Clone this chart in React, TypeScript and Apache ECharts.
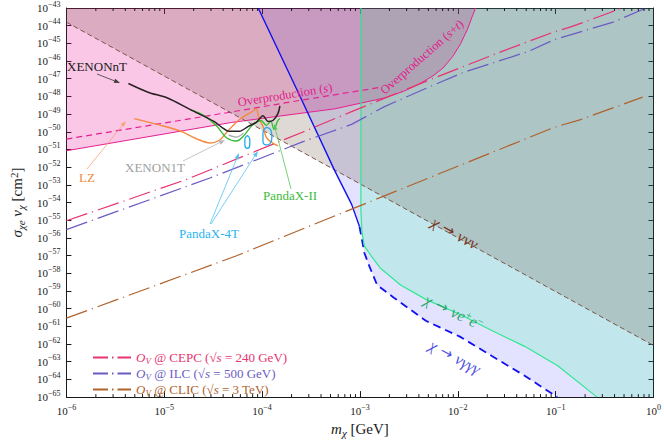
import React, { useEffect, useRef } from 'react';
import * as echarts from 'echarts';

type Pt = [number, number];

// ---------------- data: mass m_chi [GeV], cross-section sigma*v [cm^2] ----------------
const xTickExponents = [-6, -5, -4, -3, -2, -1, 0];
const yTickExponents = [-65, -64, -63, -62, -61, -60, -59, -58, -57, -56, -55, -54, -53, -52, -51, -50, -49, -48, -47, -46, -45, -44, -43];
const minorMultipliers = [2, 3, 4, 5, 6, 7, 8, 9];

const overprodST: Pt[] = [
  [1e-6, 8.5e-52], [4.88e-5, 3.39e-50], [5.55e-4, 2.0e-49], [1.76e-3, 8.1e-49], [2.8e-3, 1.95e-48],
  [3.96e-3, 4.8e-48], [5.61e-3, 1.48e-47], [7.07e-3, 4.07e-47], [8.91e-3, 1.86e-46], [1.07e-2, 9.8e-46],
  [1.26e-2, 6.6e-45], [1.42e-2, 3.9e-44], [1.52e-2, 1e-43],
];
const overprodS: Pt[] = [[1e-6, 3.9e-51], [4.35e-5, 1.2e-49], [2.58e-4, 6.3e-49], [1.64e-3, 3.3e-48]];
const decayNuNuNu: Pt[] = [[1e-6, 1.58e-44], [1, 8.3e-63]];
const decayNuGGGSolid: Pt[] = [[9.12e-5, 1e-43], [2.36e-4, 1.51e-48], [5.55e-4, 6.0e-53], [8.22e-4, 7.9e-55], [9.89e-4, 4.4e-56]];
const decayNuGGGDashed: Pt[] = [
  [9.89e-4, 4.4e-56], [1.11e-3, 1.41e-57], [1.24e-3, 2.72e-58], [1.5e-3, 2.14e-59], [2.22e-3, 4.17e-60],
  [4.76e-3, 2.0e-61], [1.05e-2, 2.63e-62], [2.25e-2, 2.04e-63], [4.82e-2, 1.62e-64], [1.04e-1, 1e-65],
];
const decayNuEE: Pt[] = [
  [1.023e-3, 1e-43], [1.023e-3, 2.9e-55], [1.047e-3, 2.3e-56], [1.11e-3, 3.47e-57], [1.3e-3, 9.8e-58],
  [1.63e-3, 1.86e-58], [2.6e-3, 2.19e-59], [4.76e-3, 3.24e-60], [1.04e-2, 4.8e-61], [2.25e-2, 5.6e-62],
  [4.82e-2, 7.4e-63], [1.05e-1, 5.9e-64], [2.65e-1, 1e-65],
];
const cepc: Pt[] = [
  [1e-6, 9.3e-56], [1.64e-5, 1.9e-53], [2.58e-4, 9.5e-51], [8.22e-4, 1.38e-49], [5.87e-3, 1.15e-47],
  [2.83e-2, 3.55e-46], [9.66e-2, 4.47e-45], [1.43e-1, 8.5e-45], [3.61e-1, 5.6e-44], [4.76e-1, 1e-43],
];
const ilc: Pt[] = [
  [1e-6, 2.95e-56], [2.93e-5, 2.45e-53], [2.58e-4, 2.69e-51], [8.22e-4, 2.63e-50], [1.76e-3, 2.57e-49],
  [4.76e-3, 2.88e-48], [1.12e-2, 2.19e-47], [5.3e-2, 3.55e-46], [9.66e-2, 1.62e-45], [1.53e-1, 3.47e-45],
  [3.87e-1, 1.58e-44], [7.74e-1, 8.3e-44], [1, 1.5e-43],
];
const clic: Pt[] = [
  [1e-6, 2.9e-61], [5.48e-5, 9.8e-58], [8.22e-4, 4.27e-55], [9.66e-2, 1.78e-50], [1.8e-1, 4.9e-50], [7.74e-1, 9.1e-49],
];
const xenonNT: Pt[] = [
  [4.3e-6, 5.4e-48], [6.82e-6, 1.74e-48], [1.08e-5, 8.1e-49], [1.85e-5, 1.78e-49], [3.22e-5, 3.85e-50],
  [3.87e-5, 1.8e-50], [4.55e-5, 1.08e-50], [5.87e-5, 1.08e-50], [7.23e-5, 2.04e-50], [8.7e-5, 3.39e-50],
  [1.02e-4, 8.2e-50], [1.15e-4, 3.85e-50], [1.29e-4, 4.37e-50], [1.45e-4, 1.06e-49], [1.52e-4, 2.95e-49],
];
const lz: Pt[] = [
  [4.93e-6, 5.6e-50], [9.23e-6, 2.32e-50], [1.47e-5, 1.08e-50], [2.17e-5, 3.9e-51], [2.93e-5, 2.34e-51],
  [3.7e-5, 3.45e-51], [4.35e-5, 9.5e-51], [5.87e-5, 4.95e-50], [8.13e-5, 1.55e-49], [8.7e-5, 2.0e-49],
  [9.33e-5, 5.6e-50], [1.02e-4, 2.04e-50], [1.1e-4, 5.0e-51], [1.23e-4, 2.7e-51], [1.45e-4, 1.62e-51],
];
const pandaXII: Pt[] = [
  [1.85e-5, 1.78e-49], [2.55e-5, 8.2e-50], [3.45e-5, 2.04e-50], [4.35e-5, 4.47e-51], [5.48e-5, 3.02e-51],
  [6.44e-5, 5.7e-51], [7.75e-5, 2.04e-50], [8.7e-5, 3.39e-50], [9.77e-5, 4.37e-50], [1.1e-4, 2.32e-50],
  [1.23e-4, 3.85e-50], [1.32e-4, 1.39e-50], [1.45e-4, 4.37e-50], [1.52e-4, 5.6e-50],
];
const xenon1T: Pt[] = [[4.55e-5, 6.5e-51], [5.48e-5, 5.0e-51], [6.44e-5, 8.3e-51]];
const pandaX4TLoopA: Pt[] = [
  [7.06e-5, 6.2e-51], [7.48e-5, 3.9e-51], [7.48e-5, 1.82e-51], [7.06e-5, 1.17e-51], [6.67e-5, 1.82e-51],
  [6.67e-5, 3.9e-51], [7.06e-5, 6.2e-51],
];
const pandaX4TLoopB: Pt[] = [
  [1.122e-4, 1.8e-50], [1.23e-4, 1.23e-50], [1.259e-4, 5.0e-51], [1.2e-4, 2.09e-51], [1.1e-4, 1.82e-51],
  [1.02e-4, 3.0e-51], [1.02e-4, 8.3e-51], [1.07e-4, 1.58e-50], [1.122e-4, 1.8e-50],
];

const X_MIN = xTickExponents[0];
const X_MAX = xTickExponents[xTickExponents.length - 1];
const Y_MIN = yTickExponents[0];
const Y_MAX = yTickExponents[yTickExponents.length - 1];

// ---------------- helpers ----------------
const serif = "'Liberation Serif', 'Times New Roman', 'DejaVu Serif', serif";
const lg = (p: Pt): Pt => [Math.log10(p[0]), Math.log10(p[1])];
const TOP = 10 ** Y_MAX;
const BOTTOM = 10 ** Y_MIN;
const RIGHT = 10 ** X_MAX;
const LEFT = 10 ** X_MIN;

const richSet = (color: string, size = 13, lh = 18) => ({
  n: { color, fontFamily: serif, fontSize: size, lineHeight: lh, verticalAlign: 'middle' },
  i: { color, fontFamily: serif, fontSize: size, fontStyle: 'italic', lineHeight: lh, verticalAlign: 'middle' },
  ar: { color, fontFamily: "'DejaVu Sans', sans-serif", fontSize: size - 1, lineHeight: lh, verticalAlign: 'middle' },
  sup: { color, fontFamily: serif, fontSize: Math.round(size * 0.7), lineHeight: 10, verticalAlign: 'top' },
  sub: { color, fontFamily: serif, fontSize: Math.round(size * 0.7), fontStyle: 'italic', lineHeight: 10, verticalAlign: 'bottom' },
});

const tickRich = {
  b: { color: '#1a1a1a', fontFamily: serif, fontSize: 11, lineHeight: 16, verticalAlign: 'middle' },
  s: { color: '#1a1a1a', fontFamily: serif, fontSize: 8, lineHeight: 9, verticalAlign: 'top' },
};
const tickFmt = (v: number) => {
  const e = Math.round(v);
  return `{b|10}{s|${e === 0 ? '0' : '\u2212' + Math.abs(e)}}`;
};

const polygonSeries = (name: string, pts: Pt[], fill: string, z: number) => ({
  type: 'custom',
  name,
  z,
  silent: true,
  coordinateSystem: 'cartesian2d',
  data: pts.map(lg),
  renderItem: (params: any, api: any) => {
    if (params.dataIndex !== 0) return null;
    return {
      type: 'polygon',
      shape: { points: pts.map((p) => api.coord(lg(p))) },
      style: { fill },
    };
  },
});

const lineSeries = (name: string, pts: Pt[], color: string, width: number, type: any = 'solid', z = 5, smooth: number | boolean = false) => ({
  type: 'line',
  name,
  data: pts.map(lg),
  symbol: 'none',
  showSymbol: false,
  smooth,
  z,
  silent: true,
  clip: true,
  itemStyle: { color },
  lineStyle: { color, width, type },
});

const DASHDOT = [22, 5, 1.2, 5];
const CEPC_NAME = 'OV @ CEPC (\u221As = 240 GeV)';
const ILC_NAME = 'OV @ ILC (\u221As = 500 GeV)';
const CLIC_NAME = 'OV @ CLIC (\u221As = 3 TeV)';
const legendRich: Record<string, string> = {
  [CEPC_NAME]: '{i|O}{sub|V}{n| @ CEPC (\u221A}{i|s}{n| = 240 GeV)}',
  [ILC_NAME]: '{i|O}{sub|V}{n| @ ILC (\u221A}{i|s}{n| = 500 GeV)}',
  [CLIC_NAME]: '{i|O}{sub|V}{n| @ CLIC (\u221A}{i|s}{n| = 3 TeV)}',
};
const COL_CEPC = '#e8336f';
const COL_ILC = '#6b5cc4';
const COL_CLIC = '#b0622c';

// --------------- annotations (pixel layout) ---------------
const arrow = (x1: number, y1: number, x2: number, y2: number, color: string, w = 0.8) => {
  const a = Math.atan2(y2 - y1, x2 - x1);
  const L = 6, H = 2.2;
  const bx = x2 - L * Math.cos(a), by = y2 - L * Math.sin(a);
  const px = -Math.sin(a) * H, py = Math.cos(a) * H;
  return [
    { type: 'line', z: 100, silent: true, shape: { x1, y1, x2: bx, y2: by }, style: { stroke: color, lineWidth: w } },
    { type: 'polygon', z: 100, silent: true, shape: { points: [[x2, y2], [bx + px, by + py], [bx - px, by - py]] }, style: { fill: color } },
  ];
};
const label = (text: string, x: number, y: number, color: string, size = 13, rotation = 0) => ({
  type: 'text',
  z: 101,
  silent: true,
  x,
  y,
  rotation,
  style: {
    text,
    fill: color,
    fontFamily: serif,
    fontSize: size,
    align: 'center',
    verticalAlign: 'middle',
    rich: richSet(color, size),
  },
});

export default function App() {
  const ref = useRef<HTMLDivElement>(null);
  useEffect(() => {
    if (!ref.current) return;
    const chart = echarts.init(ref.current, undefined, { renderer: 'svg' });

    const minorTicks: number[][] = [];
    for (let e = X_MIN; e < X_MAX; e++) {
      for (const k of minorMultipliers) minorTicks.push([Math.log10(k * 10 ** e), Y_MIN]);
    }

    const axisLineStyle = { show: true, onZero: false, lineStyle: { color: '#1a1a1a', width: 1 } };

    const option: any = {
      animation: false,
      backgroundColor: '#ffffff',
      textStyle: { fontFamily: serif },
      grid: { left: 57, right: 10, top: 5, bottom: 38 },
      xAxis: [
        {
          type: 'value', min: X_MIN, max: X_MAX, interval: 1, position: 'bottom',
          axisLine: axisLineStyle,
          axisTick: { inside: true, length: 6, lineStyle: { color: '#1a1a1a' } },
          axisLabel: { margin: 6, formatter: tickFmt, rich: tickRich },
          splitLine: { show: false },
          name: '{i|m}{sub|\u03C7}{n| [GeV]}',
          nameLocation: 'middle', nameGap: 19,
          nameTextStyle: { rich: richSet('#1a1a1a', 15) },
        },
        {
          type: 'value', min: X_MIN, max: X_MAX, interval: 1, position: 'top',
          axisLine: axisLineStyle,
          axisTick: { inside: true, length: 6, lineStyle: { color: '#1a1a1a' } },
          axisLabel: { show: false },
          splitLine: { show: false },
        },
      ],
      yAxis: [
        {
          type: 'value', min: Y_MIN, max: Y_MAX, interval: 1, position: 'left',
          axisLine: axisLineStyle,
          axisTick: { inside: true, length: 5, lineStyle: { color: '#1a1a1a' } },
          axisLabel: { margin: 6, formatter: tickFmt, rich: tickRich },
          splitLine: { show: false },
          name: '{i|\u03C3}{sub|\u03C7e}{n| }{i|v}{sub|\u03C7}{n| [cm}{sup|2}{n|]}',
          nameLocation: 'middle', nameRotate: 90, nameGap: 37,
          nameTextStyle: { rich: richSet('#1a1a1a', 15) },
        },
        {
          type: 'value', min: Y_MIN, max: Y_MAX, interval: 1, position: 'right',
          axisLine: axisLineStyle,
          axisTick: { inside: true, length: 5, lineStyle: { color: '#1a1a1a' } },
          axisLabel: { show: false },
          splitLine: { show: false },
        },
      ],
      legend: {
        left: 87, top: 346, orient: 'vertical', itemWidth: 38, itemHeight: 14, itemGap: 1.5,
        selectedMode: false,
        itemStyle: { color: 'rgba(0,0,0,0)', borderWidth: 0, opacity: 0 },
        lineStyle: { type: [15, 4, 1.5, 4] },
        data: [
          { name: CEPC_NAME, textStyle: { color: COL_CEPC, rich: richSet(COL_CEPC, 13, 16) } },
          { name: ILC_NAME, textStyle: { color: COL_ILC, rich: richSet(COL_ILC, 13, 16) } },
          { name: CLIC_NAME, textStyle: { color: COL_CLIC, rich: richSet(COL_CLIC, 13, 16) } },
        ],
        formatter: (name: string) => legendRich[name] || name,
      },
      series: [
        // shaded regions
        polygonSeries('region νγγγ', [...decayNuGGGSolid, ...decayNuGGGDashed.slice(1), [RIGHT, BOTTOM], [RIGHT, TOP]], 'rgba(0,0,255,0.11)', 1),
        polygonSeries('region overproduction', [[LEFT, TOP], ...overprodST], 'rgba(230,0,140,0.22)', 1),
        polygonSeries('region νe+e−', [...decayNuEE, [RIGHT, BOTTOM], [RIGHT, TOP]], 'rgba(0,255,127,0.15)', 1),
        polygonSeries('region ννν', [[LEFT, TOP], ...decayNuNuNu, [RIGHT, TOP]], 'rgba(93,63,45,0.2)', 1),
        // boundaries
        lineSeries('Overproduction (s+t)', overprodST, '#e6208f', 1, 'solid', 4),
        lineSeries('Overproduction (s)', overprodS, '#e6208f', 1.2, [6, 4], 4),
        lineSeries('χ → ννν', decayNuNuNu, '#7d5448', 1, [5, 3], 4),
        lineSeries('χ → νγγγ', decayNuGGGSolid, '#1010f0', 1.4, 'solid', 4),
        lineSeries('χ → νγγγ (dashed)', decayNuGGGDashed, '#1010f0', 1.8, [8, 5], 4),
        lineSeries('χ → νe+e−', decayNuEE, '#2ee88e', 1.2, 'solid', 4),
        // collider projections
        lineSeries(CEPC_NAME, cepc, COL_CEPC, 1.2, DASHDOT, 6),
        lineSeries(ILC_NAME, ilc, COL_ILC, 1.2, DASHDOT, 6),
        lineSeries(CLIC_NAME, clic, COL_CLIC, 1.2, DASHDOT, 6),
        // direct detection
        lineSeries('XENON1T', xenon1T, '#aaaaaa', 1.2, 'solid', 7, 0.3),
        lineSeries('LZ', lz, '#f48a3e', 1.4, 'solid', 8, 0.3),
        lineSeries('PandaX-II', pandaXII, '#33bb33', 1.3, 'solid', 9, 0.3),
        lineSeries('XENONnT', xenonNT, '#2a1f24', 1.5, 'solid', 10, 0.3),
        lineSeries('PandaX-4T', pandaX4TLoopA, '#22a9ee', 1.3, 'solid', 11, 0.5),
        lineSeries('PandaX-4T ', pandaX4TLoopB, '#22a9ee', 1.3, 'solid', 11, 0.5),
        // minor log ticks on the mass axis
        {
          type: 'custom', name: 'minor ticks', silent: true, z: 20,
          data: minorTicks,
          renderItem: (params: any, api: any) => {
            const x = api.coord([api.value(0), Y_MIN])[0];
            const yb = api.coord([X_MIN, Y_MIN])[1];
            const yt = api.coord([X_MIN, Y_MAX])[1];
            return {
              type: 'group',
              children: [
                { type: 'line', shape: { x1: x, y1: yb, x2: x, y2: yb - 3 }, style: { stroke: '#1a1a1a', lineWidth: 1 } },
                { type: 'line', shape: { x1: x, y1: yt, x2: x, y2: yt + 3 }, style: { stroke: '#1a1a1a', lineWidth: 1 } },
              ],
            };
          },
        },
      ],
      graphic: [
        label('XENONnT', 97, 66, '#1a1a1a'),
        ...arrow(97, 74, 120, 83, '#3a3a3a'),
        label('LZ', 87, 177, '#f0883a'),
        ...arrow(87, 169, 126, 121, '#f5a47a'),
        label('XENON1T', 155, 167, '#a0a0a0'),
        ...arrow(183, 161, 225, 140, '#b5b5b5'),
        label('PandaX-4T', 209, 233, '#2ab4ef'),
        ...arrow(210, 224, 239, 153, '#55c3f3'),
        ...arrow(211, 224, 258, 151, '#55c3f3'),
        label('PandaX-II', 290, 195, '#3dbb3d'),
        ...arrow(291, 189, 274, 124, '#55c855'),
        label('{n|Overproduction (}{i|s}{n|)}', 285, 95, '#e0208c', 12.5, 0.16),
        label('{n|Overproduction (}{i|s}{n|+}{i|t}{n|)}', 422, 57, '#e0208c', 12.5, 0.72),
        label('{i|\u03C7}{ar| \u2192 }{i|\u03BD\u03BD\u03BD}', 455, 233, '#7a3522', 16, -0.506),
        label('{i|\u03C7}{ar| \u2192 }{i|\u03BDe}{sup|+}{i|e}{sup|\u2212}', 454, 312, '#2aa86a', 16, -0.445),
        label('{i|\u03C7}{ar| \u2192 }{i|\u03BD\u03B3\u03B3\u03B3}', 455, 357, '#5050e0', 16, -0.49),
      ],
    };
    chart.setOption(option);
    return () => chart.dispose();
  }, []);
  return <div ref={ref} style={{ position: 'fixed', left: 0, top: 0, width: 664, height: 443 }} />;
}
